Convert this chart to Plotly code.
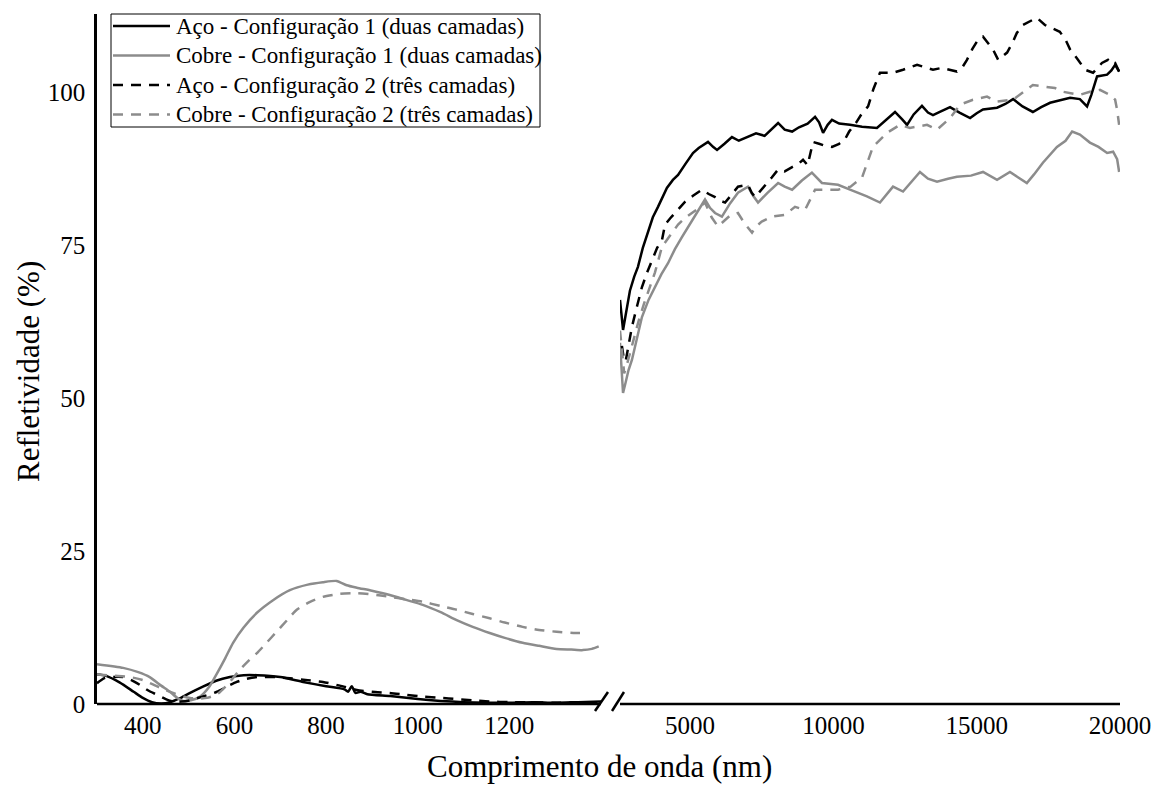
import plotly.graph_objects as go

# ---- visible-range data (nm, %) ----
aco1_vis_nm = [300, 320, 350, 380, 400, 420, 440, 460, 480, 500, 530, 560, 590, 620, 650, 700, 750, 800,
               840, 848, 856, 864, 875, 890, 940, 1000, 1050, 1100, 1150, 1200, 1250, 1300, 1350, 1400]
aco1_vis = [4.8, 4.6, 3.5, 2.0, 1.0, 0.3, 0.1, 0.3, 0.9, 1.7, 2.8, 3.8, 4.4, 4.7, 4.7, 4.4, 3.6, 2.9,
            2.4, 2.0, 2.9, 1.8, 2.0, 1.6, 1.3, 0.8, 0.5, 0.3, 0.2, 0.2, 0.3, 0.2, 0.3, 0.4]

cobre1_vis_nm = [300, 357, 390, 415, 440, 459, 475, 488, 505, 525, 545, 562, 580, 597, 620, 649, 685, 721,
                 760, 793, 823, 845, 867, 900, 939, 975, 1011, 1050, 1085, 1120, 1157, 1190, 1229, 1265,
                 1303, 1335, 1360, 1380, 1395]
cobre1_vis = [6.5, 5.9, 5.2, 4.4, 3.0, 2.0, 1.0, 0.5, 0.6, 1.2, 2.8, 5.0, 7.5, 10.0, 12.5, 14.9, 17.0, 18.6,
              19.5, 19.9, 20.1, 19.4, 19.0, 18.5, 17.8, 17.0, 16.2, 15.0, 13.7, 12.6, 11.6, 10.8, 10.0, 9.5,
              9.0, 8.9, 8.8, 9.0, 9.4]

aco2_vis_nm = [300, 315, 328, 357, 375, 394, 412, 431, 450, 466, 485, 503, 530, 562, 585, 605, 625, 649,
               690, 721, 760, 793, 830, 867, 900, 939, 975, 1011, 1050, 1085, 1120, 1157, 1200, 1250,
               1300, 1350, 1400]
aco2_vis = [3.4, 4.2, 4.4, 4.4, 3.9, 3.1, 2.2, 1.5, 0.8, 0.4, 0.4, 0.6, 1.2, 2.0, 2.9, 3.6, 4.1, 4.4,
            4.4, 4.2, 3.9, 3.6, 3.0, 2.3, 2.0, 1.8, 1.5, 1.2, 1.0, 0.8, 0.6, 0.4, 0.3, 0.3,
            0.2, 0.3, 0.3]

cobre2_vis_nm = [300, 340, 372, 400, 422, 445, 466, 485, 503, 520, 540, 562, 585, 612, 630, 649, 670, 692,
                 715, 736, 765, 793, 830, 867, 900, 939, 975, 1011, 1050, 1085, 1120, 1157, 1190, 1229,
                 1265, 1303, 1340, 1370]
cobre2_vis = [4.8, 4.6, 4.4, 3.9, 3.2, 2.4, 1.8, 1.3, 1.0, 0.9, 1.0, 1.6, 3.2, 5.6, 7.0, 8.3, 10.0, 11.8,
              13.7, 15.4, 16.7, 17.5, 18.0, 18.1, 17.9, 17.5, 17.1, 16.7, 16.0, 15.4, 14.7, 14.0, 13.3, 12.6,
              12.1, 11.8, 11.6, 11.6]

# ---- infrared-range data (nm, %) ----
aco1_ir_nm = [2554, 2580, 2610, 2660, 2750, 2900, 3050, 3180, 3350, 3530, 3700, 3880, 4050, 4190, 4400, 4580,
              4850, 5100, 5300, 5450, 5625, 5800, 5940, 6200, 6460, 6700, 7020, 7300, 7600, 7850, 8070, 8300,
              8560, 8800, 9100, 9360, 9500, 9640, 9800, 9950, 10200, 10580, 11000, 11520, 11800, 12150, 12400,
              12570, 12800, 13090, 13300, 13475, 13750, 14070, 14400, 14770, 15000, 15220, 15710, 16000, 16270,
              16600, 16960, 17250, 17560, 17900, 18260, 18600, 18850, 19000, 19200, 19550, 19700, 19830, 19970]
aco1_ir = [66.0, 64.5, 62.7, 61.1, 63.5, 67.5, 69.8, 71.4, 74.5, 77.0, 79.5, 81.2, 83.0, 84.3, 85.6, 86.4,
           88.3, 90.0, 90.8, 91.2, 91.8, 91.0, 90.5, 91.5, 92.6, 92.0, 92.6, 93.2, 92.8, 94.0, 94.9, 93.8,
           93.5, 94.2, 94.8, 95.9, 95.0, 93.3, 94.6, 95.4, 94.8, 94.6, 94.3, 94.1, 95.2, 96.7, 95.5,
           94.6, 96.3, 97.7, 96.6, 96.2, 96.8, 97.5, 96.6, 95.7, 96.5, 97.1, 97.4, 98.0, 98.8,
           97.6, 96.7, 97.5, 98.2, 98.6, 99.0, 98.8, 97.6, 99.5, 102.5, 102.8, 103.5, 104.4, 103.3]

cobre1_ir_nm = [2554, 2600, 2640, 2660, 2750, 2850, 2970, 3150, 3320, 3550, 3775, 4000, 4230, 4470, 4720, 4950,
                5170, 5350, 5520, 5700, 5870, 6110, 6400, 6670, 7020, 7200, 7370, 7700, 8070, 8300, 8560, 8900,
                9250, 9600, 9900, 10160, 10580, 11170, 11625, 12080, 12430, 13020, 13300, 13615, 14000, 14310,
                14800, 15220, 15710, 16160, 16450, 16750, 17000, 17310, 17800, 18100, 18330, 18600, 18950,
                19250, 19550, 19760, 19900, 19970]
cobre1_ir = [59.0, 55.0, 51.5, 50.8, 52.5, 54.5, 56.2, 60.0, 63.2, 66.0, 68.1, 70.2, 72.0, 74.3, 76.3, 78.0,
             79.6, 81.0, 82.4, 81.0, 80.2, 79.6, 81.8, 83.5, 84.5, 83.0, 81.9, 83.5, 85.1, 84.5, 84.0, 85.5,
             86.8, 85.1, 85.0, 84.8, 84.0, 82.9, 81.9, 84.5, 83.7, 86.9, 85.8, 85.3, 85.8, 86.1,
             86.3, 86.9, 85.6, 86.9, 86.0, 85.1, 86.5, 88.4, 91.0, 92.0, 93.5, 93.0, 91.7,
             91.0, 90.0, 90.2, 89.0, 86.9]

aco2_ir_nm = [2620, 2700, 2760, 2850, 2970, 3150, 3320, 3500, 3670, 3850, 4020, 4125, 4300, 4470, 4650, 4820,
              5100, 5415, 5650, 5870, 6050, 6220, 6450, 6670, 7020, 7150, 7270, 7450, 7610, 7850, 8070, 8300,
              8560, 8800, 8940, 9100, 9200, 9290, 9500, 9700, 9950, 10200, 10400, 10550, 10800, 11000, 11210,
              11400, 11625, 12080, 12430, 12920, 13200, 13475, 13790, 14310, 14500, 14660, 14850, 15050, 15220,
              15400, 15570, 15750, 16060, 16250, 16400, 16610, 16850, 17100, 17380, 17650, 17900, 18100, 18260,
              18540, 18780, 19060, 19250, 19370, 19580, 19700, 19830, 19970]
aco2_ir = [58.5, 56.0, 56.2, 58.5, 61.6, 65.0, 68.1, 70.5, 72.5, 74.5, 75.8, 78.3, 79.3, 80.2, 81.2, 82.0,
           83.0, 84.0, 83.3, 82.8, 82.2, 81.9, 83.2, 84.5, 84.8, 83.5, 82.8, 83.8, 84.5, 86.0, 87.3, 87.0,
           87.7, 88.3, 88.9, 88.0, 90.0, 91.8, 91.5, 91.2, 91.0, 91.5, 92.2, 93.5, 95.0, 96.5, 97.6,
           100.5, 103.1, 103.1, 103.6, 104.4, 104.0, 103.6, 103.9, 103.3, 104.0, 105.2, 107.0, 108.5, 109.0,
           108.0, 106.9, 105.2, 106.4, 108.0, 109.6, 110.9, 111.5, 112.1, 110.9, 110.3, 109.8, 108.5, 106.9,
           105.2, 103.6, 103.1, 104.0, 104.7, 105.2, 104.5, 104.7, 103.3]

cobre2_ir_nm = [2554, 2620, 2700, 2800, 3000, 3200, 3400, 3600, 3775, 4020, 4370, 4580, 4800, 5065, 5300, 5520,
                5750, 5970, 6200, 6400, 6670, 6900, 7160, 7300, 7500, 7860, 8310, 8660, 9010, 9200, 9360, 9710,
                10160, 10600, 11000, 11380, 11870, 12320, 12670, 13265, 13615, 14070, 14420, 14870, 15360,
                15710, 16270, 16960, 17280, 17730, 18010, 18600, 18950, 19300, 19650, 19830, 19900, 19970]
cobre2_ir = [61.0, 57.5, 54.0, 55.5, 59.0, 62.5, 65.5, 68.0, 70.5, 74.7, 77.0, 78.3, 79.3, 80.2, 81.0, 81.9,
             79.5, 78.0, 79.0, 79.8, 80.2, 78.5, 77.0, 78.0, 78.8, 79.6, 79.9, 81.2, 80.7, 82.5, 84.0, 84.0,
             84.0, 84.5, 86.0, 91.0, 93.3, 94.6, 94.1, 94.6, 93.8, 95.7, 97.9, 98.7, 99.2,
             98.4, 98.7, 101.1, 100.9, 100.6, 100.0, 99.5, 100.0, 100.3, 99.5, 98.7, 97.0, 94.6]

names = ["Aço - Configuração 1 (duas camadas)",
         "Cobre - Configuração 1 (duas camadas)",
         "Aço - Configuração 2 (três camadas)",
         "Cobre - Configuração 2 (três camadas)"]
y_ticks = [0, 25, 50, 75, 100]
vis_ticks = [400, 600, 800, 1000, 1200]
ir_ticks = [5000, 10000, 15000, 20000]

BLACK = "#000000"
GRAY = "#8c8c8c"
DASH = "10px,8px"
FONT = "Liberation Serif, Times New Roman, DejaVu Serif, serif"

series = [
    (names[0], BLACK, "solid", aco1_vis_nm, aco1_vis, aco1_ir_nm, aco1_ir),
    (names[1], GRAY, "solid", cobre1_vis_nm, cobre1_vis, cobre1_ir_nm, cobre1_ir),
    (names[2], BLACK, DASH, aco2_vis_nm, aco2_vis, aco2_ir_nm, aco2_ir),
    (names[3], GRAY, DASH, cobre2_vis_nm, cobre2_vis, cobre2_ir_nm, cobre2_ir),
]

fig = go.Figure()
for name, color, dash, xv, yv, xi, yi in series:
    fig.add_trace(go.Scatter(x=xv, y=yv, mode="lines", name=name, showlegend=False,
                             line=dict(color=color, width=2.5, dash=dash, shape="spline", smoothing=0.6),
                             xaxis="x", yaxis="y"))
    fig.add_trace(go.Scatter(x=xi, y=yi, mode="lines", name=name, showlegend=False,
                             line=dict(color=color, width=2.5, dash=dash),
                             xaxis="x2", yaxis="y"))

W, H = 1154, 787
L, R, T, B = 97, 34, 14, 83
pw = W - L - R
ph = H - T - B
left_end = (601 - L) / pw
right_start = (620 - L) / pw


def px(xpix):
    return (xpix - L) / pw


def py(ypix):
    return (H - B - ypix) / ph


tick_font = dict(family=FONT, size=25, color="black")
axis_common = dict(showgrid=False, zeroline=False, ticks="", tickfont=tick_font, automargin=False)

fig.update_layout(
    width=W, height=H,
    margin=dict(l=L, r=R, t=T, b=B, autoexpand=False),
    paper_bgcolor="white", plot_bgcolor="white",
    font=dict(family=FONT, color="black"),
    showlegend=False,
    xaxis=dict(domain=[0, left_end], range=[300, 1400], tickvals=vis_ticks,
               ticktext=[str(v) for v in vis_ticks], anchor="y", showline=False,
               ticklabelstandoff=4, **axis_common),
    xaxis2=dict(domain=[right_start, 1], range=[2554, 20000], tickvals=ir_ticks,
                ticktext=[str(v) for v in ir_ticks], anchor="y", showline=False,
                ticklabelstandoff=4, **axis_common),
    yaxis=dict(range=[0, 112.7], tickvals=y_ticks, anchor="x", showline=True,
               linecolor="black", linewidth=2.5, ticklabelstandoff=4, **axis_common),
)

annotations = [
    dict(text="Comprimento de onda (nm)", xref="paper", yref="paper",
         x=px(599), y=py(767), xanchor="center", yanchor="middle",
         showarrow=False, font=dict(family=FONT, size=31, color="black")),
    dict(text="Refletividade (%)", xref="paper", yref="paper",
         x=px(28), y=py(372), xanchor="center", yanchor="middle",
         textangle=-90, showarrow=False, font=dict(family=FONT, size=31, color="black")),
]

# horizontal axis lines for both segments of the broken x axis
for xr in ["x domain", "x2 domain"]:
    fig.add_shape(type="line", xref=xr, yref="y domain", x0=0, x1=1, y0=0, y1=0,
                  line=dict(color="black", width=2.5))

# axis break marks (two slanted strokes across the gap)
for x0, x1 in [(595, 608), (612, 624)]:
    fig.add_shape(type="line", xref="paper", yref="paper",
                  x0=px(x0), x1=px(x1), y0=py(711), y1=py(692),
                  line=dict(color="black", width=2.5))

# legend box with line samples and labels
fig.add_shape(type="rect", xref="paper", yref="paper",
              x0=px(111), x1=px(540), y0=py(127), y1=py(14),
              line=dict(color="black", width=1), fillcolor="white", layer="above")
row_y = [26, 55.5, 85, 114.5]
for (name, color, dash, *_), ry in zip(series, row_y):
    fig.add_shape(type="line", xref="paper", yref="paper",
                  x0=px(113), x1=px(170), y0=py(ry), y1=py(ry),
                  line=dict(color=color, width=2.5, dash=dash), layer="above")
    annotations.append(dict(text=name, xref="paper", yref="paper", x=px(174), y=py(ry),
                            xanchor="left", yanchor="middle", showarrow=False,
                            font=dict(family=FONT, size=23, color="black")))

fig.update_layout(annotations=annotations)

fig.write_html("out.html")
